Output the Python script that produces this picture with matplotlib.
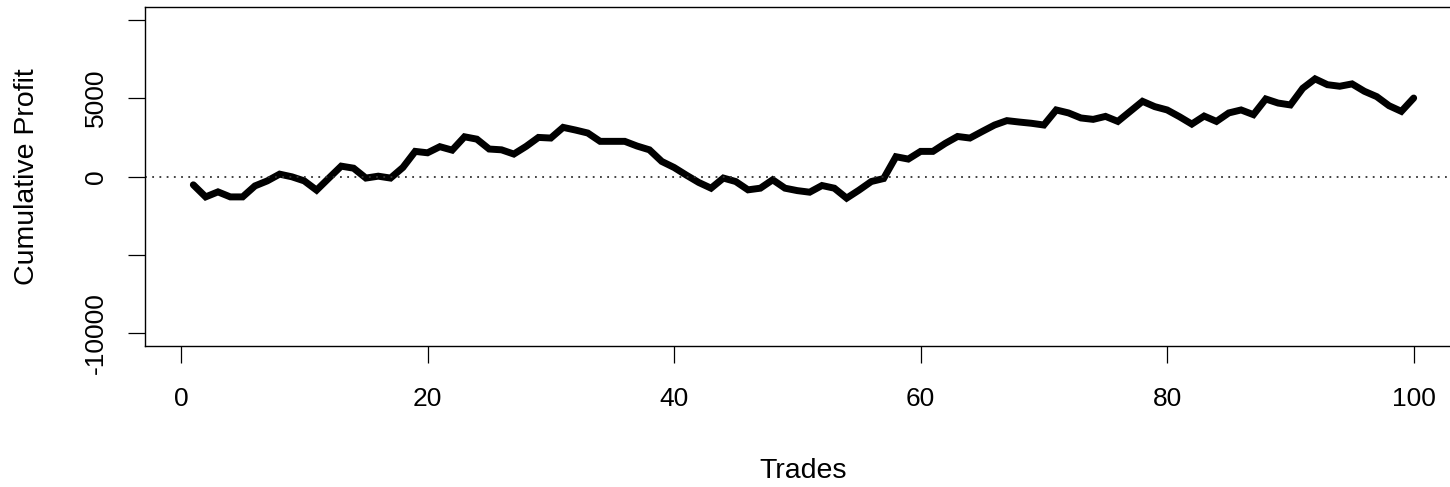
import numpy as np
import matplotlib.pyplot as plt

plt.rcParams['font.family'] = ['Liberation Sans', 'DejaVu Sans']

# cumulative profit after each trade
trades = np.arange(1, 101)
profit = [
    -530, -1300, -980, -1300, -1300, -600, -280, 150, -20, -280,
    -870, -100, 660, 530, -100, 20, -100, 575, 1600, 1510,
    1900, 1680, 2530, 2380, 1750, 1700, 1430, 1920, 2490, 2450,
    3130, 2960, 2770, 2240, 2240, 2240, 1940, 1700, 960, 575,
    85, -380, -745, -100, -320, -850, -745, -210, -745, -900,
    -1000, -575, -745, -1380, -870, -320, -130, 1260, 1110, 1600,
    1600, 2110, 2550, 2450, 2870, 3280, 3560, 3470, 3390, 3280,
    4240, 4050, 3730, 3640, 3830, 3510, 4150, 4790, 4450, 4240,
    3810, 3340, 3850, 3510, 4050, 4240, 3940, 4940, 4680, 4560,
    5620, 6220, 5850, 5750, 5900, 5430, 5090, 4510, 4150, 5000,
]
xticks = [0, 20, 40, 60, 80, 100]
yticks = [-10000, -5000, 0, 5000, 10000]
yticklabels = ['-10000', '', '0', '5000', '']

W, H = 1450, 487
fig = plt.figure(figsize=(W / 100, H / 100), dpi=100)
# plot box runs past the right edge of the picture, like the reference
left, right, top, bottom = 144.5, 1462.5, 7, 346
ax = fig.add_axes([left / W, 1 - bottom / H, (right - left) / W, (bottom - top) / H])

ax.plot(trades, profit, color='black', linewidth=5, solid_joinstyle='miter',
        solid_capstyle='round')
ax.axhline(0, color='#333333', linestyle=(0, (1, 3)), linewidth=1.3)

ax.set_xlim(1 - 0.04 * 99, 100 + 0.04 * 99)
ax.set_ylim(-10800, 10800)
ax.set_xticks(xticks)
ax.set_yticks(yticks)
ax.set_yticklabels(yticklabels)

for s in ax.spines.values():
    s.set_linewidth(1.0)
    s.set_color('black')

ax.tick_params(axis='both', length=12.5, width=0.9, labelsize=19, color='black')
ax.tick_params(axis='x', pad=17)
ax.tick_params(axis='y', pad=14)
for lab in ax.get_yticklabels():
    lab.set_rotation(90)
    lab.set_va('center')

ax.set_xlabel('Trades', fontsize=20.5, va='center')
ax.set_ylabel('Cumulative Profit', fontsize=20.5, va='center')
ax.xaxis.set_label_coords(0.5, -0.369)
ax.yaxis.set_label_coords(-0.0895, 0.5)

fig.savefig('out.png', dpi=100)
